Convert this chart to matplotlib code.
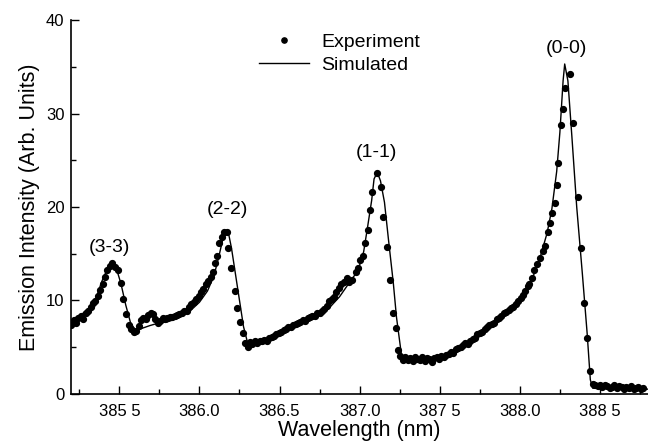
import matplotlib
matplotlib.use("Agg")
import matplotlib.pyplot as plt
from matplotlib.ticker import MultipleLocator, FixedLocator

plt.rcParams['font.family'] = ['Liberation Sans', 'DejaVu Sans']

# simulated spectrum (line)
sim_wl = [385.20, 385.25, 385.30, 385.35, 385.39, 385.41, 385.44, 385.46, 385.48,
          385.51, 385.54, 385.57, 385.60, 385.64, 385.69, 385.75, 385.80, 385.85,
          385.90, 385.95, 386.00, 386.05, 386.09, 386.12, 386.145, 386.16, 386.18,
          386.20, 386.225, 386.25, 386.275, 386.30, 386.34, 386.41, 386.50, 386.60,
          386.70, 386.80, 386.875, 386.94, 386.99, 387.025, 387.05, 387.075, 387.09,
          387.11, 387.13, 387.155, 387.18, 387.21, 387.23, 387.26, 387.28, 387.375,
          387.50, 387.60, 387.70, 387.80, 387.90, 388.00, 388.075, 388.125, 388.17,
          388.20, 388.23, 388.25, 388.27, 388.28, 388.30, 388.325, 388.355, 388.39,
          388.42, 388.44, 388.455, 388.625, 388.80]
sim_int = [7.9, 8.3, 9.0, 10.0, 12.0, 12.8, 13.6, 13.9, 13.5,
           11.8, 9.5, 7.6, 6.8, 7.0, 7.3, 7.6, 7.7, 8.0,
           8.4, 9.0, 9.8, 11.0, 12.6, 14.6, 16.5, 17.4, 17.3,
           15.6, 12.8, 10.0, 7.2, 5.5, 5.5, 5.8, 6.5, 7.5,
           8.2, 9.0, 10.4, 12.0, 13.2, 15.2, 17.9, 20.7, 23.0,
           23.7, 22.8, 20.5, 16.5, 11.9, 8.2, 4.3, 3.8, 3.8,
           4.0, 4.4, 5.5, 7.0, 8.6, 10.3, 12.2, 14.5, 17.2,
           19.8, 23.8, 28.0, 33.5, 35.3, 33.5, 27.5, 20.0, 12.9,
           6.5, 1.5, 0.6, 0.5, 0.5]

# experimental points
exp_wl = [385.20, 385.215, 385.23, 385.245, 385.26, 385.275, 385.29, 385.305, 385.32,
          385.335, 385.35, 385.365, 385.38, 385.395, 385.41, 385.425, 385.44, 385.455,
          385.475, 385.49, 385.51, 385.525, 385.54, 385.56, 385.575, 385.59, 385.605,
          385.62, 385.635, 385.65, 385.665, 385.68, 385.695, 385.71, 385.725, 385.74,
          385.755, 385.77, 385.785, 385.80, 385.815, 385.83, 385.845, 385.86, 385.875,
          385.89, 385.905, 385.92, 385.935, 385.95, 385.965, 385.98, 385.995, 386.01,
          386.025, 386.04, 386.055, 386.07, 386.085, 386.10, 386.11, 386.125, 386.14,
          386.155, 386.17, 386.18, 386.20, 386.225, 386.235, 386.255, 386.27, 386.285,
          386.30, 386.315, 386.33, 386.345, 386.36, 386.375, 386.39, 386.405, 386.42,
          386.435, 386.45, 386.465, 386.48, 386.495, 386.51, 386.525, 386.54, 386.555,
          386.57, 386.585, 386.60, 386.615, 386.63, 386.645, 386.66, 386.675, 386.69,
          386.705, 386.72, 386.735, 386.75, 386.765, 386.78, 386.795, 386.81, 386.825,
          386.84, 386.855, 386.87, 386.885, 386.90, 386.92, 386.935, 386.955, 386.975,
          386.99, 387.005, 387.02, 387.035, 387.05, 387.065, 387.08, 387.11, 387.135,
          387.145, 387.17, 387.19, 387.21, 387.225, 387.24, 387.255, 387.27, 387.285,
          387.30, 387.315, 387.33, 387.345, 387.36, 387.375, 387.39, 387.405, 387.42,
          387.435, 387.45, 387.465, 387.48, 387.495, 387.51, 387.525, 387.54, 387.555,
          387.57, 387.585, 387.60, 387.615, 387.63, 387.645, 387.66, 387.675, 387.69,
          387.705, 387.72, 387.735, 387.75, 387.765, 387.78, 387.795, 387.81, 387.825,
          387.84, 387.855, 387.87, 387.885, 387.90, 387.915, 387.93, 387.945, 387.96,
          387.975, 387.99, 388.005, 388.02, 388.035, 388.05, 388.06, 388.075, 388.09,
          388.11, 388.125, 388.145, 388.16, 388.175, 388.19, 388.20, 388.22, 388.23,
          388.24, 388.256, 388.27, 388.28, 388.31, 388.33, 388.36, 388.38, 388.40,
          388.42, 388.44, 388.455, 388.47, 388.485, 388.50, 388.515, 388.53, 388.545,
          388.56, 388.575, 388.59, 388.605, 388.62, 388.635, 388.65, 388.665, 388.68,
          388.695, 388.71, 388.725, 388.74, 388.755, 388.77]
exp_int = [7.4, 7.9, 7.6, 8.1, 8.3, 8.0, 8.6, 8.9, 9.3,
           9.7, 9.9, 10.5, 11.1, 11.8, 12.5, 13.3, 13.7, 14.0,
           13.6, 13.2, 11.9, 10.1, 8.5, 7.4, 6.9, 6.6, 6.7,
           7.3, 7.9, 8.1, 8.0, 8.4, 8.6, 8.5, 8.0, 7.6,
           7.8, 8.1, 8.0, 8.1, 8.2, 8.2, 8.3, 8.4, 8.5,
           8.7, 8.9, 8.9, 9.3, 9.6, 9.8, 10.1, 10.5, 10.9,
           11.2, 11.7, 12.1, 12.5, 13.0, 14.0, 14.8, 16.1, 16.8,
           17.3, 17.3, 15.6, 13.5, 11.0, 9.2, 7.7, 6.5, 5.4,
           5.0, 5.5, 5.3, 5.6, 5.4, 5.7, 5.6, 5.8, 5.7,
           6.0, 6.1, 6.2, 6.4, 6.5, 6.6, 6.8, 6.9, 7.1,
           7.2, 7.4, 7.5, 7.6, 7.7, 7.9, 7.8, 8.1, 8.2,
           8.3, 8.3, 8.6, 8.7, 8.9, 9.1, 9.4, 9.9, 10.1,
           10.4, 10.9, 11.3, 11.7, 12.0, 12.4, 12.0, 12.2, 13.0,
           13.5, 14.3, 14.7, 16.1, 17.5, 19.7, 21.6, 23.6, 22.1,
           18.9, 15.7, 12.2, 8.6, 7.0, 4.7, 4.0, 3.6, 3.9,
           3.6, 3.8, 3.5, 3.9, 3.7, 3.6, 3.9, 3.5, 3.8,
           3.7, 3.4, 3.8, 3.9, 3.7, 4.1, 3.9, 4.2, 4.3,
           4.5, 4.4, 4.8, 4.9, 5.0, 5.2, 5.4, 5.3, 5.7,
           5.9, 6.0, 6.4, 6.5, 6.6, 6.9, 7.2, 7.4, 7.5,
           7.6, 8.0, 8.1, 8.3, 8.6, 8.8, 9.0, 9.2, 9.3,
           9.6, 9.9, 10.3, 10.6, 11.0, 11.5, 11.8, 12.4, 13.3,
           13.9, 14.5, 15.3, 15.8, 17.3, 18.3, 19.4, 20.4, 22.3,
           24.7, 28.8, 30.5, 32.7, 34.2, 29.0, 21.1, 15.6, 9.7,
           6.0, 2.4, 1.0, 0.9, 0.8, 0.9, 0.7, 0.9, 0.8,
           0.6, 0.7, 0.9, 0.6, 0.8, 0.7, 0.5, 0.7, 0.6,
           0.8, 0.5, 0.6, 0.7, 0.5, 0.6]

band_labels = ['(3-3)', '(2-2)', '(1-1)', '(0-0)']
band_wl = [385.44, 386.175, 387.105, 388.29]
band_y = [15.7, 19.7, 25.8, 37.0]

x_ticks = [385.5, 386.0, 386.5, 387.0, 387.5, 388.0, 388.5]
x_ticklabels = ['385 5', '386.0', '386.5', '387.0', '387 5', '388.0', '388 5']

fig = plt.figure(figsize=(6.48, 4.46), dpi=100)
ax = fig.add_axes([0.110, 0.117, 0.890, 0.838])

ax.plot(exp_wl, exp_int, 'o', color='black', markersize=4.2, label='Experiment')
ax.plot(sim_wl, sim_int, '-', color='black', linewidth=1.0, label='Simulated')

for lab, wx, wy in zip(band_labels, band_wl, band_y):
    ax.text(wx, wy, lab, ha='center', va='center', fontsize=14)

ax.set_xlim(385.2, 388.8)
ax.set_ylim(0, 40)
ax.xaxis.set_major_locator(FixedLocator(x_ticks))
ax.set_xticklabels(x_ticklabels)
ax.xaxis.set_minor_locator(MultipleLocator(0.25))
ax.yaxis.set_major_locator(MultipleLocator(10))
ax.yaxis.set_minor_locator(MultipleLocator(5))
ax.tick_params(which='both', direction='in', labelsize=12, width=1.0)
ax.tick_params(which='major', length=6)
ax.tick_params(which='minor', length=3.5)
ax.tick_params(axis='x', pad=7)
ax.tick_params(axis='y', pad=5)

for s in ['top', 'right']:
    ax.spines[s].set_visible(False)
for s in ['left', 'bottom']:
    ax.spines[s].set_linewidth(1.2)

ax.set_xlabel('Wavelength (nm)', fontsize=15.5, labelpad=1)
ax.set_ylabel('Emission Intensity (Arb. Units)', fontsize=15.5, labelpad=4)

ax.legend(loc='upper left', bbox_to_anchor=(0.325, 0.965), frameon=False,
          fontsize=14, handlelength=2.6, handletextpad=0.6, labelspacing=0.3,
          borderpad=0, borderaxespad=0, markerscale=0.9)

fig.savefig('out.png', dpi=100)
